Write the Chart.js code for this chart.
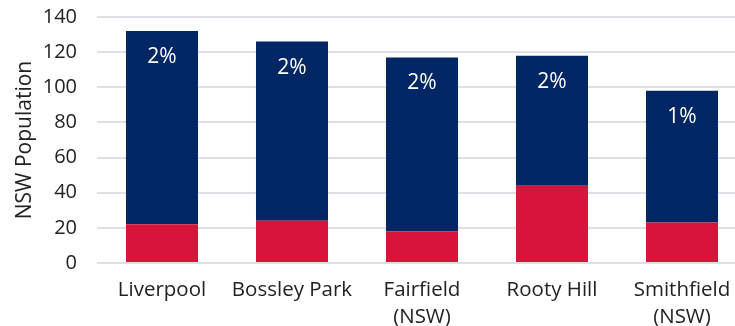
<!DOCTYPE html>
<html>
<head>
<meta charset="utf-8">
<script src="https://cdn.jsdelivr.net/npm/chart.js@4"></script>
<style>
  html, body { margin: 0; padding: 0; background: #fff; overflow: hidden; }
  #wrap { width: 747px; height: 326px; }
</style>
</head>
<body>
<div id="wrap"><canvas id="popChart"></canvas></div>
<script>
// Data
const suburbs = [["Liverpool"], ["Bossley Park"], ["Fairfield", "(NSW)"], ["Rooty Hill"], ["Smithfield", "(NSW)"]];
const lowerPart = [22, 24, 18, 44, 23];
const upperPart = [110, 102, 99, 74, 75];
const shareLabels = ["2%", "2%", "2%", "2%", "1%"];
const yTicks = [0, 20, 40, 60, 80, 100, 120, 140];

const navy = "#002664";
const red = "#d7153a";
const textCol = "#222222";
const fontFam = "'Open Sans', 'Liberation Sans', sans-serif";

// draws the % text inside the top (navy) part of each bar
const shareLabelPlugin = {
    id: "shareLabels",
    afterDatasetsDraw(chart) {
        const meta = chart.getDatasetMeta(1);
        const ctx = chart.ctx;
        ctx.save();
        ctx.fillStyle = "#ffffff";
        ctx.font = "21px " + fontFam;
        ctx.textAlign = "center";
        ctx.textBaseline = "middle";
        meta.data.forEach((bar, i) => {
            ctx.fillText(shareLabels[i], bar.x, bar.y + 26);
        });
        ctx.restore();
    }
};

const ctx = document.getElementById("popChart").getContext("2d");
new Chart(ctx, {
    type: "bar",
    data: {
        labels: suburbs,
        datasets: [
            {
                label: "Lower",
                data: lowerPart,
                backgroundColor: red,
                categoryPercentage: 1,
                barPercentage: 0.554
            },
            {
                label: "Upper",
                data: upperPart,
                backgroundColor: navy,
                categoryPercentage: 1,
                barPercentage: 0.554
            }
        ]
    },
    options: {
        responsive: true,
        maintainAspectRatio: false,
        animation: false,
        layout: { padding: { top: 17, right: 0, bottom: 0, left: 0 } },
        plugins: {
            legend: { display: false },
            tooltip: { enabled: false }
        },
        scales: {
            x: {
                stacked: true,
                grid: { display: false, drawTicks: false },
                border: { display: false },
                ticks: {
                    color: textCol,
                    font: { family: fontFam, size: 20.5, lineHeight: 1.3 },
                    padding: 14,
                    maxRotation: 0,
                    autoSkip: false
                },
                afterFit(scale) { scale.height = 63; }
            },
            y: {
                stacked: true,
                min: 0,
                max: 140,
                afterBuildTicks(scale) { scale.ticks = yTicks.map(v => ({ value: v })); },
                grid: { color: "#dde0e5", lineWidth: 2, drawTicks: false },
                border: { display: false },
                ticks: {
                    color: textCol,
                    font: { family: fontFam, size: 20 },
                    padding: 20
                },
                title: {
                    display: true,
                    text: "NSW Population",
                    color: textCol,
                    font: { family: fontFam, size: 21 },
                    padding: { top: 12, bottom: 0 }
                },
                afterFit(scale) {
                    scale.width = 97;
                    scale.paddingTop = 0;
                    scale.paddingBottom = 0;
                }
            }
        }
    },
    plugins: [shareLabelPlugin]
});
</script>
</body>
</html>
